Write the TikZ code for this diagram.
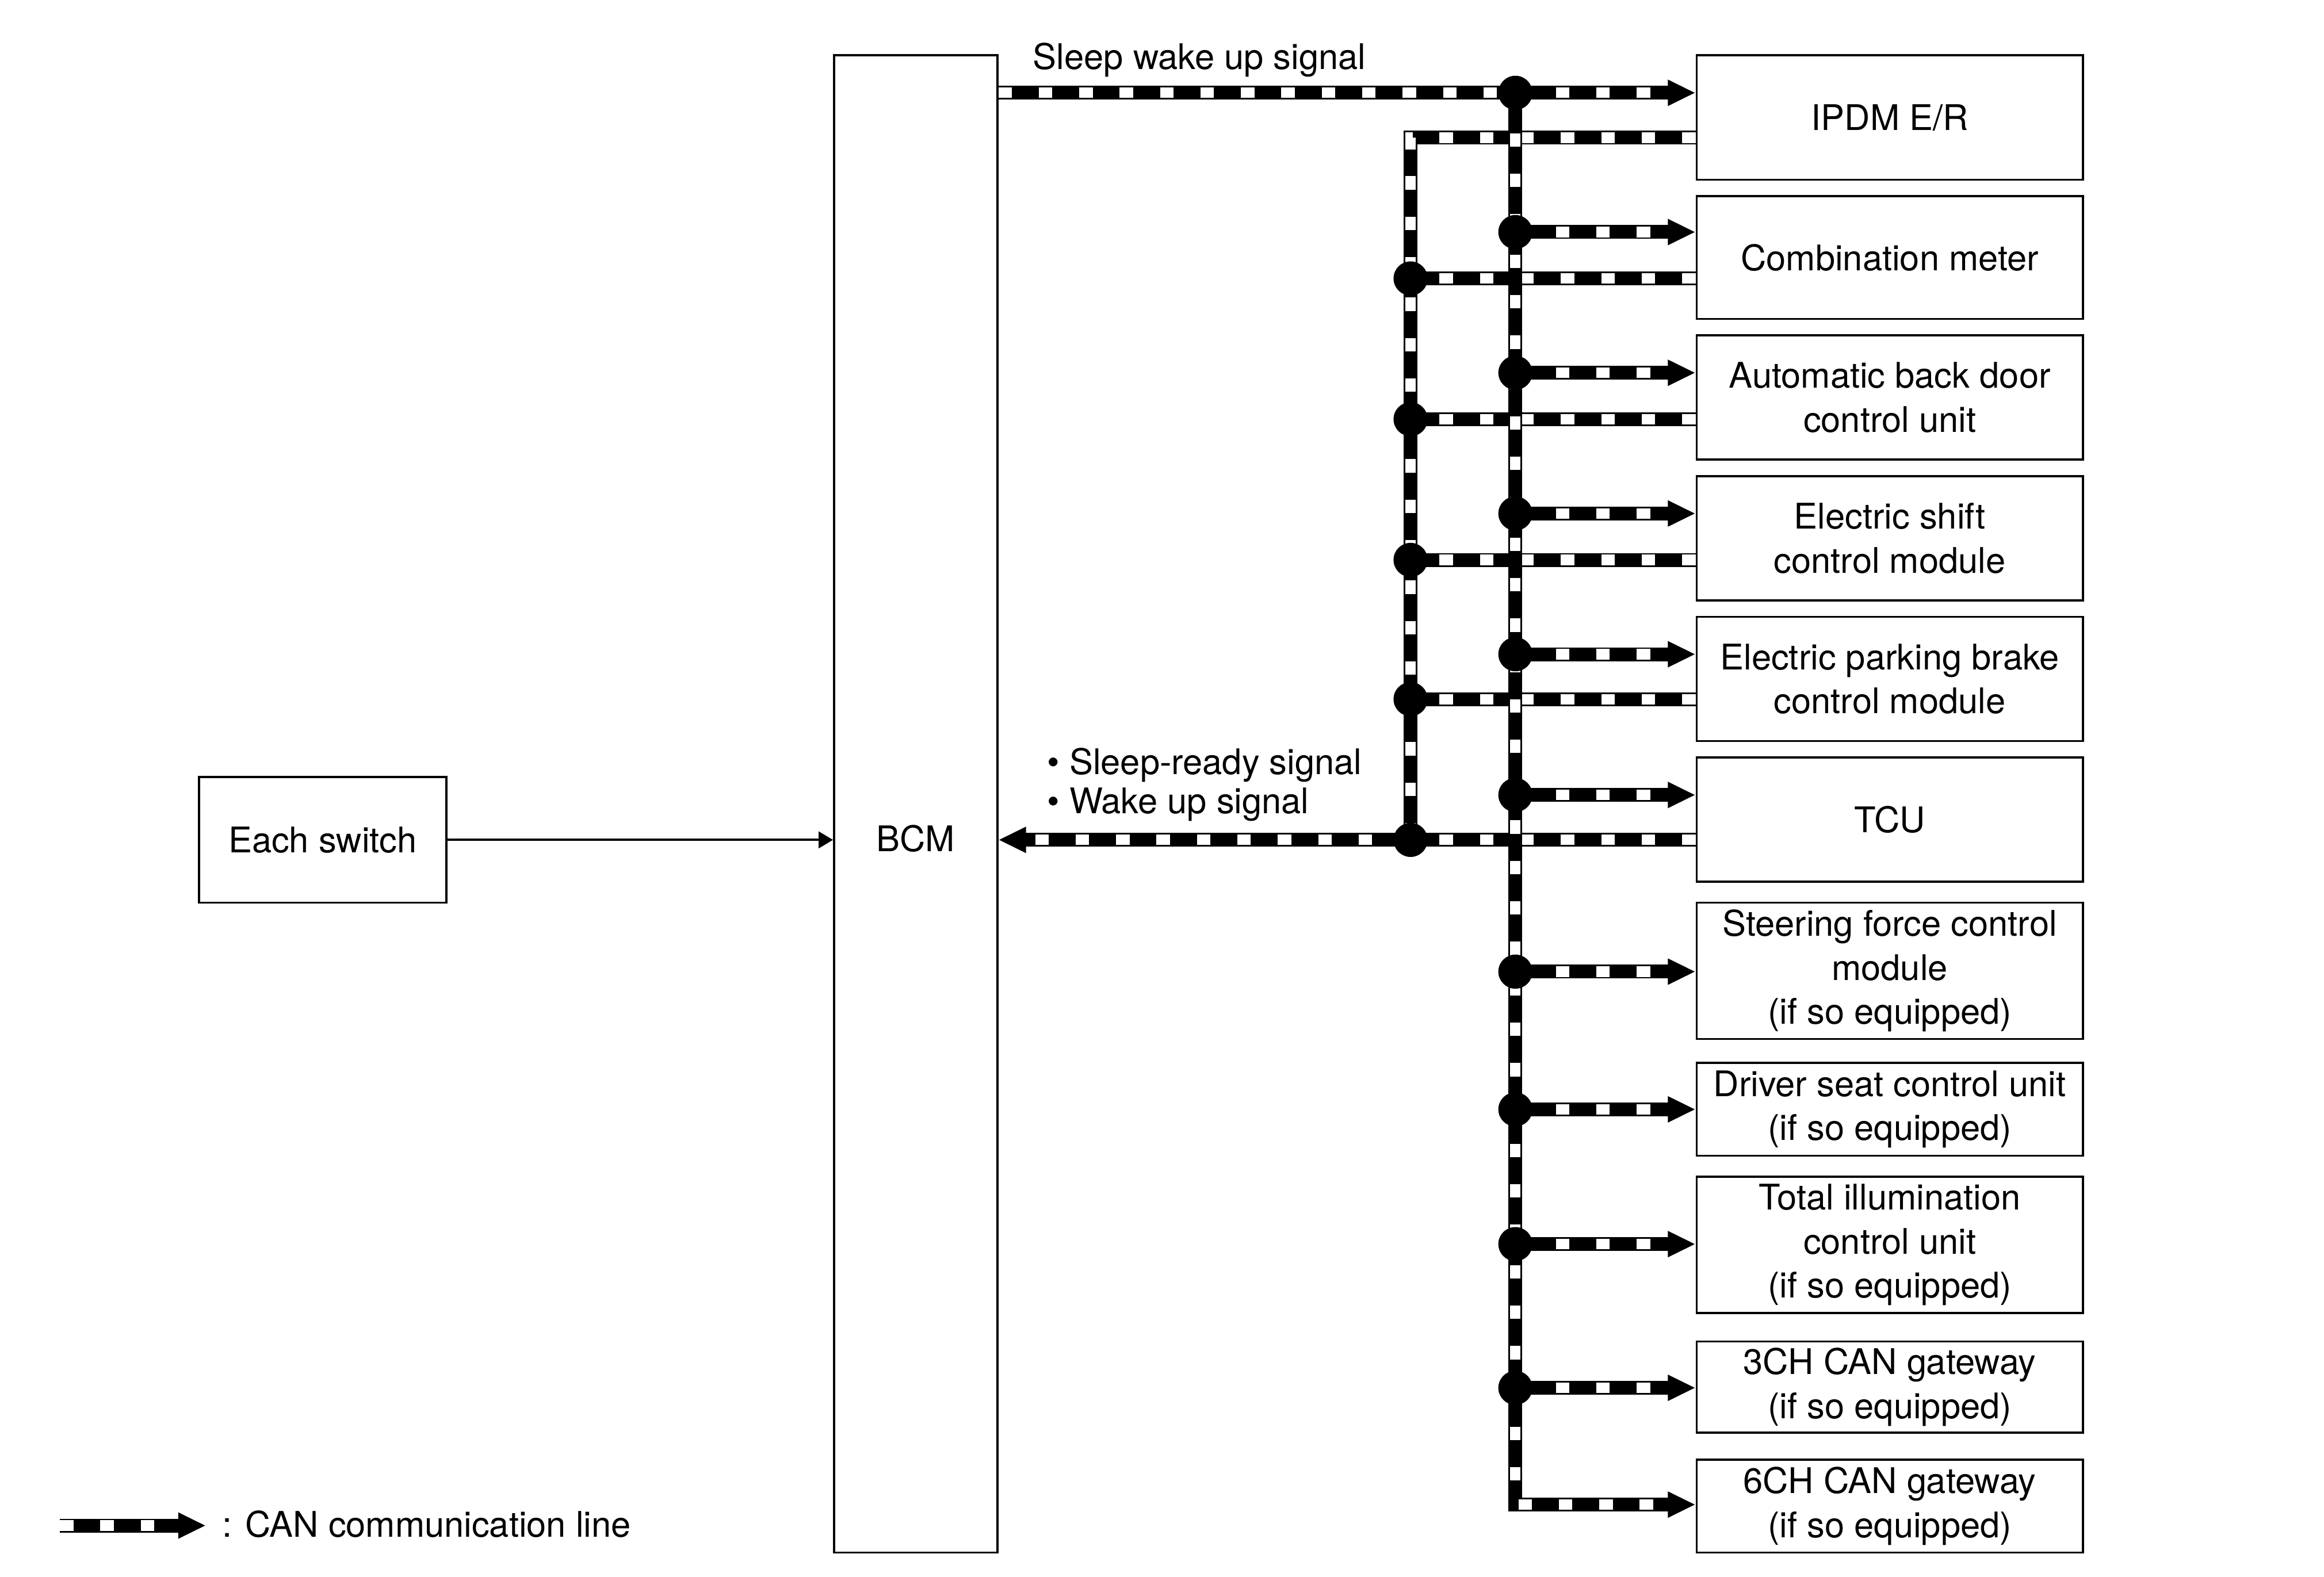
\documentclass[tikz,border=0pt]{standalone}
\usepackage{fontspec}
\setmainfont{TeX Gyre Heros}
\usetikzlibrary{arrows.meta}
\newcommand\dfont{\fontsize{11.8}{14.7}\selectfont}
\newcommand\dfonttight{\fontsize{11.8}{13}\selectfont}
\tikzset{
  box/.style={draw, line width=0.7pt, align=center, inner sep=0pt, font=\dfont},
  rbox/.style={box, minimum width=129pt},
  lbl/.style={inner sep=0pt, font=\dfont},
  cbase/.style={draw=black, line width=4.6pt, line join=miter},
  wdash/.style={draw=white, line width=3.5pt, dash pattern=on 4.5pt off 9pt, arrows=-},
  canline/.style={cbase, postaction={wdash}},
  canarrow/.style={cbase, -{Triangle[length=9.25pt,width=8.1pt]}, postaction={wdash, shorten >=9.5pt}},
  thinarrow/.style={draw=black, line width=0.75pt, -{Triangle[length=4.8pt,width=5.5pt]}},
  dot/.style={circle, fill=black, inner sep=0pt, minimum size=11.4pt},
}
\begin{document}
\begin{tikzpicture}[x=0.5pt,y=-0.5pt]
\useasboundingbox (0,0) rectangle (1552,1053);

% left boxes
\node[box, minimum width=82.5pt, minimum height=42pt] (sw) at (215.5,561) {Each switch};
\node[box, minimum width=54.5pt, minimum height=500pt] (bcm) at (611.5,537) {};
\node[lbl] (bcmlbl) at (611.5,560) {BCM};

% right boxes
\node[rbox, minimum height=41.5pt] (ipdm) at (1262,78.5) {IPDM E/R};
\node[rbox, minimum height=41pt]   (cm)   at (1262,172) {Combination meter};
\node[rbox, minimum height=41.5pt] (abd)  at (1262,265.5) {Automatic back door\\control unit};
\node[rbox, minimum height=41.5pt] (es)   at (1262,359.5) {Electric shift\\control module};
\node[rbox, minimum height=41.5pt] (epb)  at (1262,453.5) {Electric parking brake\\control module};
\node[rbox, minimum height=41.5pt] (tcu)  at (1262,547.5) {TCU};
\node[rbox, minimum height=45.5pt] (sf)   at (1262,648.5) {Steering force control\\module\\(if so equipped)};
\node[rbox, minimum height=31pt]   (ds)   at (1262,741) {Driver seat control unit\\(if so equipped)};
\node[rbox, minimum height=45.5pt] (ti)   at (1262,831.5) {Total illumination\\control unit\\(if so equipped)};
\node[rbox, minimum height=30.5pt] (g3)   at (1262,926.5) {3CH CAN gateway\\(if so equipped)};
\node[rbox, minimum height=31pt]   (g6)   at (1262,1006) {6CH CAN gateway\\(if so equipped)};

% junction coordinates
\coordinate (a0) at (1012,62);
\coordinate (a1) at (1012,155);
\coordinate (a2) at (1012,249);
\coordinate (a3) at (1012,343);
\coordinate (a4) at (1012,437);
\coordinate (a5) at (1012,531);
\coordinate (a6) at (1012,649);
\coordinate (a7) at (1012,741);
\coordinate (a8) at (1012,831);
\coordinate (a9) at (1012,927);
\coordinate (aend) at (1012,1005);
\coordinate (b0) at (942,92);
\coordinate (b1) at (942,186);
\coordinate (b2) at (942,280);
\coordinate (b3) at (942,374);
\coordinate (b4) at (942,467);
\coordinate (b5) at (942,561);

% thin connector
\draw[thinarrow] (sw.east) -- (sw.east -| bcm.west);

% bus B (returning signals)
\draw[canline] (b0 -| ipdm.west) -- (b0) -- (b5);
\draw[canline] (b1 -| cm.west) -- (b1);
\draw[canline] (b2 -| abd.west) -- (b2);
\draw[canline] (b3 -| es.west) -- (b3);
\draw[canline] (b4 -| epb.west) -- (b4);
\draw[canarrow] (b5 -| tcu.west) -- (b5 -| bcm.east);

% bus A (sleep wake up signal)
\draw[canline] (bcm.east |- a0) -- (a0);
\draw[canarrow] (a0) -- (a0 -| ipdm.west);
\draw[canarrow] (a0) -- (aend) -- (aend -| g6.west);
\draw[canarrow] (a1) -- (a1 -| cm.west);
\draw[canarrow] (a2) -- (a2 -| abd.west);
\draw[canarrow] (a3) -- (a3 -| es.west);
\draw[canarrow] (a4) -- (a4 -| epb.west);
\draw[canarrow] (a5) -- (a5 -| tcu.west);
\draw[canarrow] (a6) -- (a6 -| sf.west);
\draw[canarrow] (a7) -- (a7 -| ds.west);
\draw[canarrow] (a8) -- (a8 -| ti.west);
\draw[canarrow] (a9) -- (a9 -| g3.west);

% junction dots
\foreach \p in {a0,a1,a2,a3,a4,a5,a6,a7,a8,a9,b1,b2,b3,b4,b5}
  \node[dot] (dot-\p) at (\p) {};

% labels
\node[lbl] (sleepwake) at (801,40) {Sleep wake up signal};
\node[lbl, anchor=west, align=left, font=\dfonttight] (readylbl) at (699,524)
  {\textbullet\ Sleep-ready signal\\\textbullet\ Wake up signal};

% legend
\coordinate (lg0) at (40,1019);
\coordinate (lg1) at (137.5,1019);
\draw[canarrow] (lg0) -- (lg1);
\node[lbl, anchor=west] (lgtext) at (148,1018) {: CAN communication line};
\end{tikzpicture}
\end{document}
